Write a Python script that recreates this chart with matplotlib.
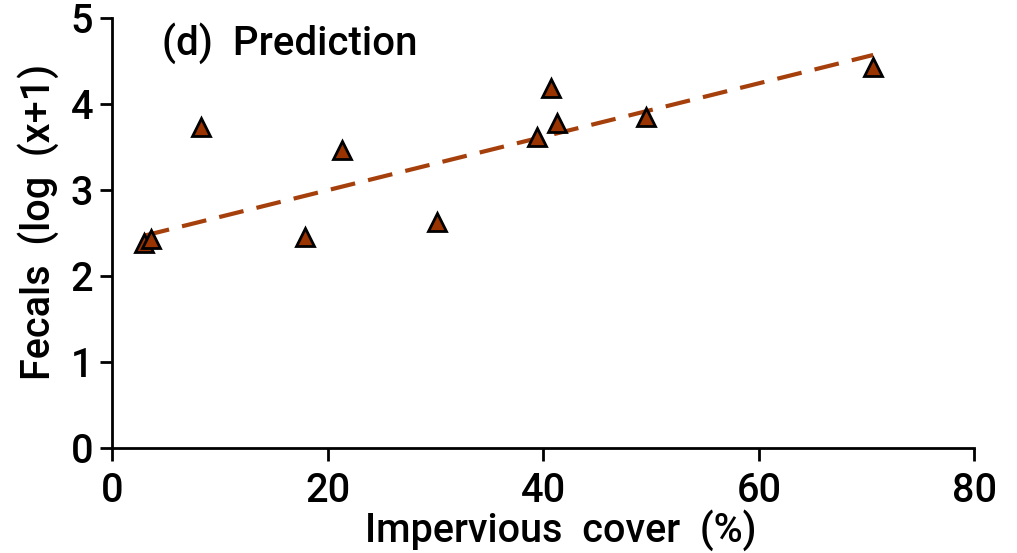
import matplotlib
matplotlib.use("Agg")
import matplotlib.pyplot as plt

# Data
impervious = [2.9, 3.6, 8.2, 17.9, 21.3, 30.1, 39.4, 40.7, 41.3, 49.5, 70.6]
fecals = [2.38, 2.43, 3.73, 2.45, 3.47, 2.63, 3.62, 4.18, 3.78, 3.85, 4.43]
trend_x = [3.0, 70.6]
trend_y = [2.47, 4.57]

x_ticks = [0, 20, 40, 60, 80]
y_ticks = [0, 1, 2, 3, 4, 5]

plt.rcParams['font.family'] = ['Roboto', 'DejaVu Sans']
plt.rcParams['font.weight'] = 'medium'
plt.rcParams['axes.labelweight'] = 'medium'

fig = plt.figure(figsize=(10.17, 5.53), dpi=100)
ax = fig.add_axes([0.1106, 0.19, 0.8476, 0.7775])

ax.plot(trend_x, trend_y, linestyle=(0, (6, 3.2)), color='#A5400C', linewidth=3, zorder=2)
ax.plot(impervious, fecals, linestyle='none', marker='^', markersize=13.5,
        markerfacecolor='#993300', markeredgecolor='black', markeredgewidth=2, zorder=3)

ax.set_xlim(0, 80)
ax.set_ylim(0, 5)
ax.set_xticks(x_ticks)
ax.set_yticks(y_ticks)
ax.spines['top'].set_visible(False)
ax.spines['right'].set_visible(False)
ax.spines['left'].set_linewidth(2)
ax.spines['bottom'].set_linewidth(2)
ax.tick_params(direction='out', length=9, width=2, labelsize=28.5)
ax.tick_params(axis='x', pad=8)
ax.tick_params(axis='y', pad=5)

ax.set_xlabel('Impervious  cover  (%)', fontsize=28.5, labelpad=0)
ax.xaxis.set_label_coords(0.52, -0.143)
ax.xaxis.label.set_va('top')
ax.set_ylabel('Fecals  (log  (x+1)', fontsize=28.5)
ax.yaxis.set_label_coords(-0.062, 0.525)
ax.text(0.057, 0.99, '(d)  Prediction', transform=ax.transAxes, fontsize=29,
        va='top', ha='left')

fig.savefig('out.png', dpi=100)
